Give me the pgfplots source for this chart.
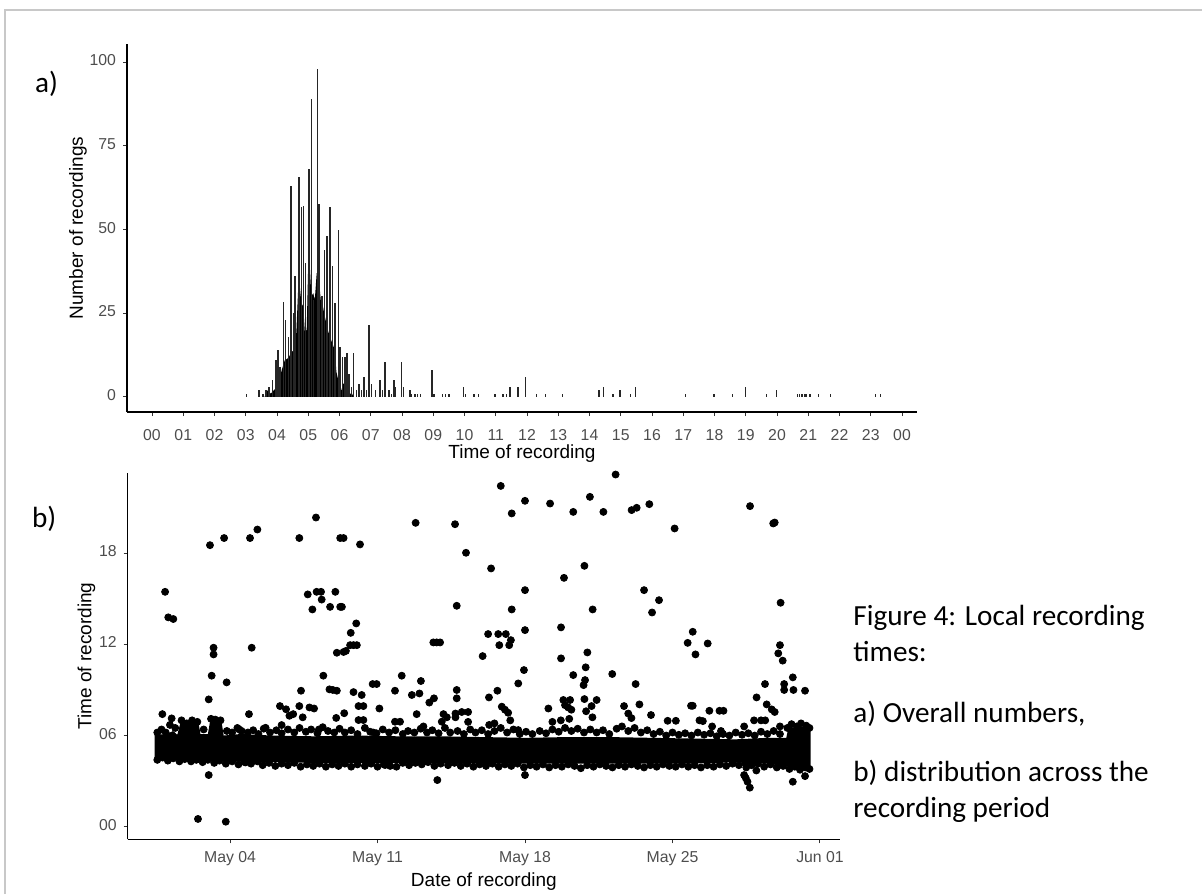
\documentclass[border=0pt]{standalone}
\usepackage{pgfplots}
\pgfplotsset{compat=1.18}
\usepackage{fontspec}
\setmainfont{Liberation Sans}
\newfontfamily\calib{Carlito}
\definecolor{ticklab}{HTML}{4D4D4D}
\definecolor{framegray}{HTML}{C8C8C8}

\pgfplotsset{gg/.style={
  scale only axis, axis lines*=left,
  axis line style={black, line width=0.6pt},
  tick align=outside, major tick length=2pt,
  tick style={black!80, line width=0.5pt},
  typeset ticklabels with strut,
  tick label style={font=\fontsize{7.9}{9}\selectfont, color=ticklab},
  label style={font=\fontsize{9.5}{11}\selectfont},
}}

\begin{document}
\begin{tikzpicture}
\path[use as bounding box] (0pt,0pt) rectangle (601pt,-447pt);
\draw[framegray, line width=0.6pt] (2.5pt,-447pt) -- (2.5pt,-5pt) -- (601pt,-5pt);

% a) histogram of recording times
\begin{axis}[gg,
  at={(63.5pt,-206pt)}, anchor=south west,
  width=395pt, height=184pt,
  xmin=-0.8, xmax=24.48, ymin=-4.5, ymax=105.4,
  xtick={0,...,24},
  xticklabels={00,01,02,03,04,05,06,07,08,09,10,11,12,13,14,15,16,17,18,19,20,21,22,23,00},
  xticklabel style={yshift=-2.5pt},
  ytick={0,25,50,75,100}, yticklabels={0,25,50,75,100},
  xlabel={Time of recording}, ylabel={Number of recordings},
  ylabel style={yshift=-5.5pt}, xlabel style={yshift=7.5pt},
]
% dense part of the histogram
\addplot[fill=black, draw=none] coordinates {
(3.60,0) (3.70,2) (3.80,1) (3.90,2) (4.00,3) (4.05,3.6) (4.15,8) (4.25,11) (4.36,11.6)
(4.47,13.5) (4.57,14) (4.62,19.5) (4.68,33) (4.73,33) (4.78,28) (4.84,27) (4.89,19.5)
(4.95,20) (5.00,40) (5.05,39) (5.10,30) (5.16,31) (5.21,29) (5.27,37) (5.32,37)
(5.40,29) (5.47,27) (5.53,24) (5.64,19.5) (5.75,16.5) (5.85,14) (5.90,7.5) (5.96,5)
(6.01,2) (6.06,2) (6.12,4) (6.20,4) (6.28,6) (6.33,1) (6.40,1) (6.45,0)
};
% individual bins
\addplot[ycomb, black!85, line width=0.7pt, mark=none] coordinates {
(3.02,1) (3.43,2) (3.55,1) (3.65,2) (3.75,3) (3.86,5) (3.97,11) (4.03,14) (4.10,9)
(4.20,28.5) (4.27,23) (4.36,18) (4.45,63) (4.52,25) (4.58,36) (4.70,65.6) (4.79,56.6)
(4.85,57) (4.91,40) (5.03,68) (5.10,89) (5.16,29) (5.29,98) (5.35,57.5) (5.44,30)
(5.52,44) (5.60,48) (5.69,56.6) (5.78,39) (5.86,28) (5.96,50) (6.02,15) (6.10,12)
(6.17,12) (6.24,13) (6.30,7) (6.38,3) (6.45,13) (6.55,2) (6.62,4) (6.70,2) (6.78,6)
(6.87,2) (6.95,21.5) (7.03,4) (7.15,2) (7.30,5) (7.38,2) (7.46,10.5) (7.58,2)
(7.66,1) (7.75,5) (7.80,3) (7.98,10.5) (8.05,3) (8.25,2) (8.30,1) (8.42,1) (8.50,1)
(8.60,1) (8.96,8) (9.02,1) (9.30,1) (9.40,1) (9.50,1) (9.96,3) (10.03,1) (10.30,1)
(10.45,1) (10.97,1) (11.23,1) (11.34,1) (11.45,3) (11.71,3) (11.96,6) (12.30,1)
(12.60,1) (13.13,1) (14.30,2) (14.45,3) (14.75,1) (14.97,2) (15.31,1) (15.48,3)
(17.07,1) (17.98,1) (18.57,1) (18.99,3) (19.66,1) (19.98,2) (20.65,1) (20.72,1)
(20.80,1) (20.90,1) (20.95,1) (21.05,1) (21.33,1) (21.71,1) (23.15,1) (23.31,1)
};
\end{axis}

% b) recording time against date (x = day of May)
\begin{axis}[gg,
  at={(63.85pt,-419.65pt)}, anchor=south west,
  width=356.15pt, height=183.3pt,
  xmin=-0.855, xmax=32.95, ymin=-0.83, ymax=23.3,
  xtick={4,11,18,25,32}, xticklabels={May 04,May 11,May 18,May 25,Jun 01},
  ytick={0,6,12,18}, yticklabels={00,06,12,18},
  xlabel={Date of recording}, ylabel={Time of recording},
  ylabel style={yshift=-5pt}, xlabel style={yshift=4.5pt},
  clip=true,
]
% dense core of the morning band
\addplot[fill=black, draw=none] coordinates {
(0.42,4.45) (0.42,6.05) (1.0,6.1) (1.3,6.3) (1.5,6.05) (1.65,6.85) (2.5,6.85)
(2.6,6.1) (2.95,6.1) (3.05,6.9) (3.6,6.9) (3.7,6.0) (4.5,6.1) (6,6.0) (8,5.95)
(10,6.0) (12,5.95) (14,5.95) (16,5.9) (18,5.85) (20,5.9) (22,5.9) (24,5.85)
(26,5.8) (28,5.75) (29.5,5.85) (30.4,5.85) (30.5,6.5) (31.55,6.6) (31.55,3.8)
(30.5,3.95) (29.5,4.15) (28.8,4.2) (28,4.25) (26,4.15) (24,4.15) (22,4.15) (20,4.15)
(18,4.15) (16,4.15) (14,4.2) (12,4.2) (10,4.2) (8,4.2) (6,4.25) (4,4.3) (2,4.35)
(0.42,4.45)
};
% ragged upper and lower edge of the band
\addplot[only marks, mark=*, mark size=1.75pt, black] coordinates {
(0.55,6.2) (0.75,6.4) (0.95,6.2) (1.15,6.7) (1.4,6.5) (1.7,7.0) (1.95,6.8) (2.2,7.0)
(2.45,6.9) (2.75,6.4) (3.1,7.1) (3.35,6.8) (3.55,7.0) (3.85,6.3) (4.1,6.2) (4.35,6.5)
(4.55,6.3) (4.85,6.2) (5.1,6.35) (5.35,6.1) (5.6,6.45) (5.9,6.2) (6.2,6.35) (6.45,6.15)
(6.75,6.4) (7.05,6.2) (7.3,6.5) (7.6,6.25) (7.85,6.4) (8.15,6.15) (8.4,6.55) (8.65,6.3)
(8.95,6.2) (9.2,6.45) (9.45,6.2) (9.75,6.35) (10.05,6.1) (10.4,6.5) (10.65,6.25)
(10.95,6.15) (11.25,6.4) (11.55,6.2) (11.85,6.35) (12.2,6.1) (12.45,6.3) (12.75,6.2)
(13.05,6.45) (13.35,6.2) (13.6,6.35) (13.9,6.15) (14.2,6.5) (14.45,6.2) (14.8,6.3)
(15.1,6.1) (15.4,6.4) (15.65,6.2) (15.95,6.35) (16.25,6.1) (16.55,6.3) (16.85,6.5)
(17.15,6.2) (17.45,6.4) (17.75,6.1) (18.05,6.25) (18.35,6.1) (18.7,6.3) (19.0,6.15)
(19.3,6.4) (19.6,6.25) (19.9,6.5) (20.2,6.3) (20.5,6.45) (20.8,6.2) (21.1,6.4)
(21.4,6.2) (21.7,6.35) (22.0,6.1) (22.35,6.45) (22.6,6.6) (22.9,6.3) (23.2,6.5)
(23.5,6.2) (23.8,6.35) (24.1,6.1) (24.4,6.25) (24.7,6.0) (25.0,6.2) (25.3,6.05)
(25.6,6.15) (25.9,6.0) (26.2,6.2) (26.5,6.05) (26.8,6.15) (27.1,5.95) (27.4,6.1)
(27.7,6.0) (28.0,6.2) (28.3,6.05) (28.6,6.15) (28.9,6.0) (29.2,6.25) (29.5,6.1)
(29.8,6.3) (30.1,6.1) (30.45,6.5) (30.65,6.75) (30.9,6.6) (31.1,6.8) (31.35,6.65)
(31.5,6.5)
(0.55,4.4) (0.8,4.55) (1.05,4.35) (1.3,4.5) (1.6,4.3) (1.85,4.45) (2.15,4.3) (2.4,4.4)
(2.7,4.25) (2.95,4.4) (3.25,4.2) (3.5,4.35) (3.8,4.15) (4.1,4.3) (4.4,4.1) (4.7,4.25)
(5.0,4.15) (5.3,4.3) (5.55,4.05) (5.85,4.2) (6.15,4.0) (6.45,4.15) (6.75,4.05)
(7.05,4.2) (7.35,3.95) (7.65,4.1) (7.95,4.0) (8.25,4.15) (8.55,3.95) (8.85,4.1)
(9.15,4.0) (9.45,4.15) (9.75,3.95) (10.05,4.1) (10.4,4.0) (10.7,4.15) (11.0,3.95)
(11.3,4.1) (11.6,4.0) (11.9,3.95) (12.2,4.2) (12.5,4.05) (12.8,4.2) (13.1,4.1)
(13.4,4.25) (13.7,4.0) (14.0,4.15) (14.35,4.05) (14.65,4.2) (14.95,4.0) (15.25,4.15)
(15.55,3.95) (15.85,4.1) (16.15,4.0) (16.45,4.15) (16.75,3.95) (17.05,4.1) (17.35,4.0)
(17.65,4.15) (17.95,3.9) (18.25,4.05) (18.55,3.95) (18.85,4.1) (19.15,3.9) (19.45,4.05)
(19.75,3.95) (20.05,4.1) (20.35,4.0) (20.65,3.85) (20.95,4.05) (21.25,3.95) (21.55,4.1)
(21.85,4.0) (22.15,3.9) (22.45,4.05) (22.75,3.95) (23.05,4.1) (23.35,4.0) (23.65,3.9)
(23.95,4.05) (24.25,3.95) (24.55,4.1) (24.85,4.0) (25.15,3.95) (25.45,4.1) (25.75,3.95)
(26.05,4.05) (26.35,3.9) (26.65,4.05) (26.95,3.95) (27.25,4.1) (27.55,4.0) (27.85,4.15)
(28.15,4.05) (28.45,4.2) (28.75,4.05) (29.05,4.15) (29.35,3.95) (29.65,4.1) (29.95,3.9)
(30.25,4.0) (30.55,3.8) (30.8,3.95) (31.05,3.75) (31.3,3.9) (31.5,3.8)
};
% outlying recordings
\addplot[only marks, mark=*, mark size=1.75pt, black] coordinates {
(0.92,15.46) (1.07,13.78) (1.31,13.67) (0.79,7.41) (1.23,7.13) (2.48,0.51)
(2.99,3.40) (3.05,18.53) (3.13,9.94) (2.99,8.38) (3.22,11.78) (3.22,11.34)
(3.30,7.05) (3.72,19.0) (3.80,0.33) (3.84,9.50) (4.74,4.23) (4.95,19.0)
(5.30,19.56) (5.03,11.78) (4.90,7.41) (4.44,6.40) (5.69,6.51) (6.37,7.94)
(6.45,6.69) (6.66,7.73) (6.82,7.30) (7.00,7.41) (7.29,19.0) (7.29,7.94)
(7.37,8.95) (7.45,7.20) (7.69,15.29) (7.91,14.30) (7.77,7.85) (7.99,7.78)
(8.08,20.35) (8.11,15.46) (8.32,15.46) (8.35,14.95) (8.43,9.94) (8.22,6.40)
(8.75,14.47) (8.72,9.04) (8.88,9.0) (9.07,8.95) (9.00,15.46) (9.04,7.16)
(9.07,11.45) (9.23,14.47) (9.31,14.47) (9.23,19.0) (9.39,19.0) (9.42,7.47)
(9.39,11.5) (9.50,11.57) (9.73,12.76) (9.99,13.38) (9.70,11.95) (9.86,11.95)
(10.02,11.95) (9.86,8.86) (10.17,18.58) (10.10,7.94) (10.25,8.67) (10.33,7.94)
(10.10,7.02) (10.33,7.02) (10.77,9.39) (10.96,9.39) (11.09,7.78) (10.80,6.20)
(11.36,4.06) (11.83,8.95) (12.15,9.94) (11.83,6.91) (12.07,6.91) (12.63,8.67)
(12.99,8.77) (13.06,9.59) (12.81,20.0) (12.86,7.41) (13.18,6.60) (13.46,8.17)
(13.68,8.45) (13.65,12.13) (13.81,12.13) (13.97,12.13) (13.84,3.07) (14.13,7.41)
(14.05,6.91) (14.29,7.20) (14.68,23.36) (14.68,19.91) (14.76,14.54) (14.76,9.0)
(14.76,8.45) (14.70,7.20)
(15.20,18.03) (16.39,17.0) (15.99,11.23) (16.29,8.51) (16.69,8.95) (16.25,12.68)
(16.73,12.68) (17.09,12.68) (16.78,11.95) (17.25,11.95) (17.33,12.28) (16.85,22.43)
(17.37,20.62) (17.37,14.30) (16.90,7.90) (17.05,7.70) (17.20,7.50) (17.30,7.00)
(17.68,9.43) (17.95,10.31) (18.0,21.45) (18.0,15.57) (18.0,12.94) (18.0,3.40)
(19.19,21.27) (19.11,7.78) (19.85,16.38) (19.71,13.12) (19.71,11.08) (19.82,8.34)
(20.14,8.34) (20.29,9.98) (20.29,20.72) (19.90,8.00) (20.05,7.85) (20.20,7.70)
(20.82,17.17) (21.08,21.71) (21.21,14.30) (20.96,11.47) (20.88,10.49) (20.85,9.65)
(20.78,9.32) (20.82,8.40) (21.40,8.34) (21.16,7.94) (20.90,7.60) (21.20,7.20)
(21.72,20.72) (22.14,10.05) (22.30,23.18) (22.70,7.94) (23.06,20.84) (23.30,20.99)
(23.90,21.23) (23.65,15.57) (24.03,14.10) (24.36,14.91) (23.25,9.39) (23.43,8.05)
(22.90,7.45) (23.05,7.15) (23.98,7.35) (24.77,6.97) (25.16,6.97) (25.10,19.63)
(25.72,12.10) (25.96,12.83) (26.09,11.34) (26.67,12.06) (25.88,7.96) (25.96,7.96)
(26.28,7.00) (26.44,6.95) (26.75,7.63) (27.23,7.63) (27.42,7.63) (26.88,6.60)
(27.30,6.30) (28.68,21.10) (28.99,8.51) (29.39,9.39) (29.47,8.05) (29.71,7.72)
(29.78,19.96) (29.85,20.02) (30.13,14.74) (30.10,11.95) (30.02,11.41) (30.23,10.93)
(30.30,9.39) (30.30,9.0) (30.74,9.0) (30.71,9.83) (31.29,8.95) (29.85,7.55)
(30.10,6.60) (30.71,2.96) (31.29,3.33) (28.40,3.40) (28.56,2.96) (28.67,2.57)
(28.48,3.20) (28.50,3.90) (28.98,3.70) (28.40,6.60) (28.87,7.00) (29.20,7.00)
(29.40,7.00) (17.68,6.36) (14.70,7.45) (15.00,7.55) (15.30,7.55) (15.30,6.90)
(16.30,6.70) (16.55,6.80) (19.30,6.90) (19.70,7.00) (20.10,7.10)
};
\end{axis}

\node[anchor=base west, font=\calib\fontsize{14.6}{17}\selectfont] at (14pt,-46pt) {a)};
\node[anchor=base west, font=\calib\fontsize{14.6}{17}\selectfont] at (12.5pt,-263.5pt) {b)};
\begin{scope}[every node/.style={anchor=base west, inner sep=0pt, font=\calib\fontsize{14.6}{17}\selectfont}]
\node at (426.5pt,-312.5pt) {Figure 4: Local recording};
\node at (426.5pt,-330.5pt) {times:};
\node at (426.5pt,-361pt) {a) Overall numbers,};
\node at (426.5pt,-390.5pt) {b) distribution across the};
\node at (426.5pt,-408.5pt) {recording period};
\end{scope}
\end{tikzpicture}
\end{document}
